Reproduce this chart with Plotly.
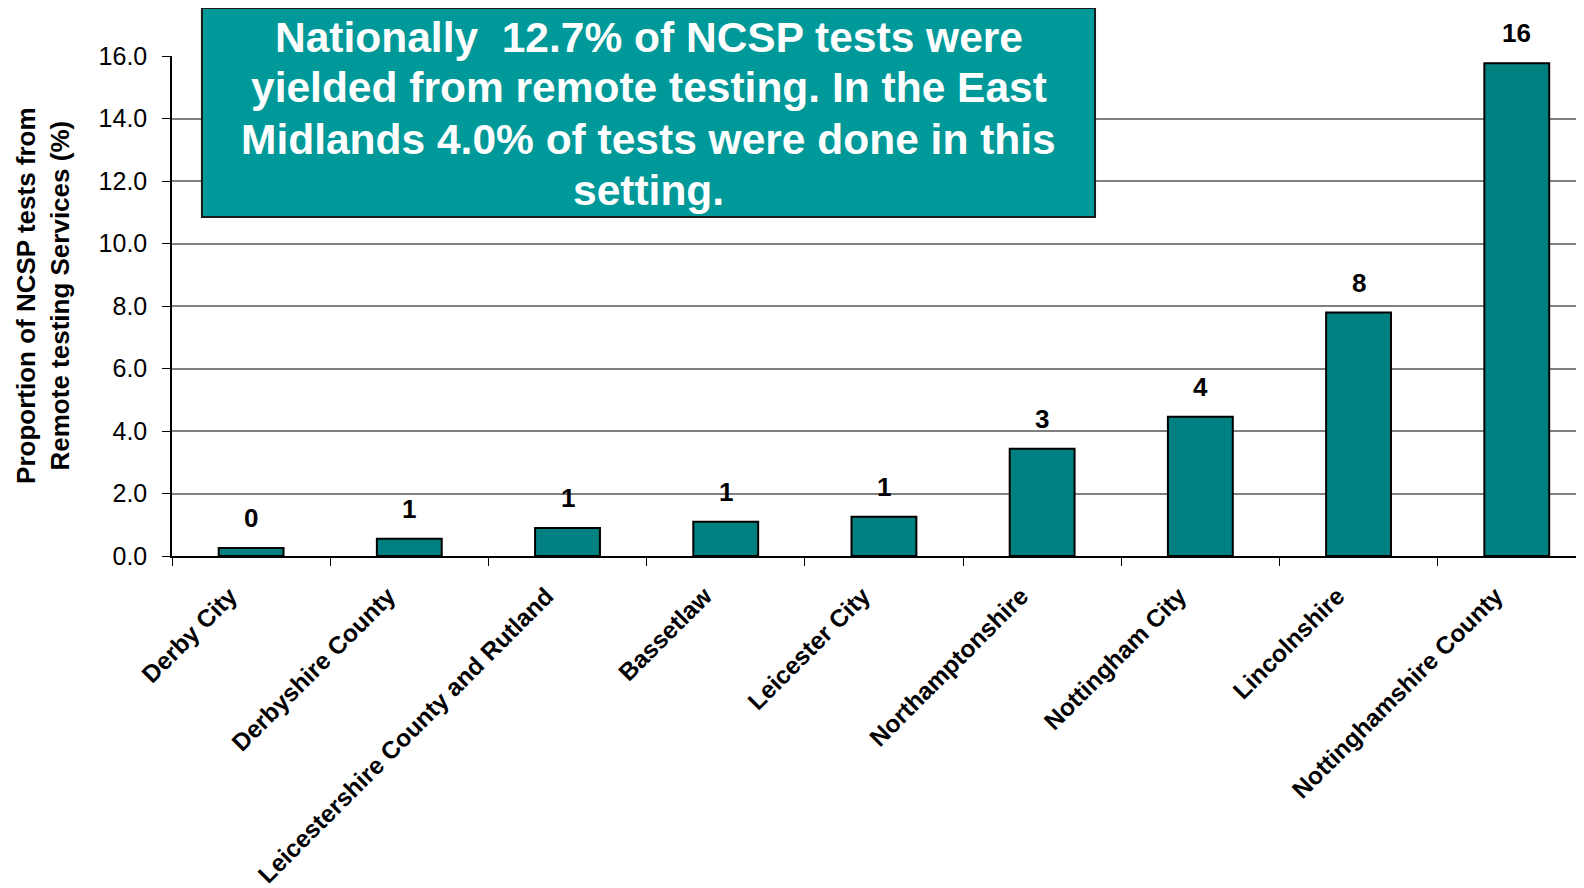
import plotly.graph_objects as go

categories = ["Derby City", "Derbyshire County", "Leicestershire County and Rutland",
              "Bassetlaw", "Leicester City", "Northamptonshire", "Nottingham City",
              "Lincolnshire", "Nottinghamshire County"]
values = [0.26, 0.55, 0.9, 1.1, 1.26, 3.43, 4.46, 7.79, 15.77]
y_ticks = [0, 2, 4, 6, 8, 10, 12, 14, 16]
y_title = "Proportion of NCSP tests from<br>Remote testing Services (%)"
box_lines = ["Nationally  12.7% of NCSP tests were",
             "yielded from remote testing. In the East",
             "Midlands 4.0% of tests were done in this",
             "setting."]
box_line_y = [1.0372, 0.9362, 0.8332, 0.7302]

FONT = "Liberation Sans, Arial, sans-serif"

fig = go.Figure()
fig.add_trace(go.Bar(
    x=categories, y=values, width=0.41,
    marker=dict(color="#008080", line=dict(color="black", width=2)),
    hoverinfo="skip",
))

for c, v in zip(categories, values):
    fig.add_annotation(x=c, y=v, text="<b>%d</b>" % round(v), showarrow=False,
                       yanchor="bottom", yshift=13,
                       font=dict(family=FONT, size=26, color="black"))

fig.add_shape(type="rect", xref="paper", yref="paper",
              x0=0.0212, x1=0.6537, y0=0.678, y1=1.096,
              fillcolor="#009999", line=dict(color="#1a1a1a", width=2), layer="above")
for line, ly in zip(box_lines, box_line_y):
    fig.add_annotation(xref="paper", yref="paper", x=0.3375, y=ly,
                       text="<b>" + line + "</b>", showarrow=False,
                       xanchor="center", yanchor="middle", align="center",
                       font=dict(family=FONT, size=42.5, color="white"))

# y-axis title
fig.add_annotation(xref="paper", yref="paper", x=-0.0914, y=0.522,
                   text="<b>" + y_title + "</b>", showarrow=False, textangle=-90,
                   xanchor="center", yanchor="middle", align="center",
                   font=dict(family=FONT, size=26, color="black"))

fig.update_layout(
    width=1576, height=880,
    margin=dict(l=164, r=0, t=48, b=332),
    paper_bgcolor="white", plot_bgcolor="white",
    showlegend=False,
    font=dict(family=FONT, color="black"),
)
fig.update_yaxes(
    range=[0, 16], tickvals=y_ticks, ticktext=["%.1f" % t for t in y_ticks],
    tickfont=dict(size=25, family=FONT, color="black"),
    showgrid=True, gridcolor="#808080", gridwidth=1.5,
    showline=True, linecolor="black", linewidth=1.5,
    ticks="outside", ticklen=8, tickcolor="black", zeroline=False,
    ticklabelstandoff=10,
)
fig.update_xaxes(
    range=[-0.5, 8.425], tickangle=-45,
    tickfont=dict(size=24.5, family=FONT, color="black"),
    ticktext=["<b>%s</b>" % c for c in categories], tickvals=categories,
    showline=True, linecolor="black", linewidth=2,
    ticks="outside", ticklen=8, tickcolor="black", tickson="boundaries",
    ticklabelshift=-21, ticklabelstandoff=14,
    showgrid=False,
)

fig.write_html("out.html")
